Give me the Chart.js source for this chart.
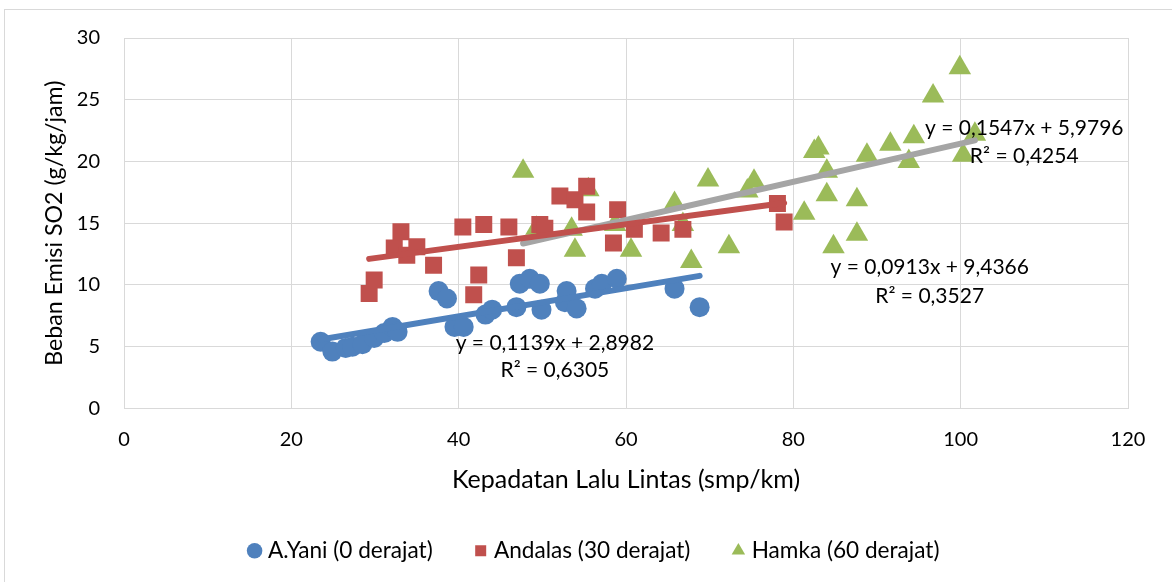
<!DOCTYPE html>
<html><head><meta charset="utf-8">
<script src="https://cdn.jsdelivr.net/npm/chart.js@4.4.1/dist/chart.umd.min.js"></script>
<style>
html,body{margin:0;padding:0;background:#fff;overflow:hidden;}
#wrap{position:relative;width:1172px;height:582px;overflow:hidden;}
#frame{position:absolute;left:4px;top:9px;width:1300px;height:700px;border:1px solid #d9d9d9;box-sizing:border-box;}
canvas{position:absolute;left:0;top:0;}
</style></head><body>
<div id="wrap"><div id="frame"></div><canvas id="c" width="1172" height="582"></canvas></div>
<script>
// ---- data ----
const seriesNames = ['A.Yani (0 derajat)', 'Andalas (30 derajat)', 'Hamka (60 derajat)'];

const ayaniX = [23.5, 24.9, 26.5, 27.3, 28.5, 29.9, 31.1, 32.1, 32.7, 37.6, 38.6, 39.5, 40.6, 43.2, 44.0, 46.9, 47.3, 48.5, 49.7, 49.9, 52.7, 52.9, 54.1, 56.3, 57.1, 58.9, 65.8, 68.8];
const ayaniY = [5.4, 4.6, 4.9, 5.0, 5.2, 5.7, 6.1, 6.6, 6.2, 9.5, 8.9, 6.6, 6.6, 7.6, 8.0, 8.2, 10.1, 10.5, 10.1, 8.0, 8.6, 9.5, 8.1, 9.7, 10.1, 10.5, 9.7, 8.2];

const andalasX = [29.3, 29.9, 32.3, 33.1, 33.8, 35.0, 37.0, 40.5, 41.8, 42.4, 43.0, 46.0, 46.9, 49.7, 50.3, 52.1, 53.9, 55.3, 55.3, 58.5, 59.0, 61.0, 64.2, 66.8, 78.1, 78.9];
const andalasY = [9.3, 10.4, 13.0, 14.3, 12.4, 13.1, 11.6, 14.7, 9.2, 10.8, 14.9, 14.7, 12.2, 14.9, 14.6, 17.2, 16.9, 18.0, 15.9, 13.4, 16.1, 14.5, 14.2, 14.5, 16.6, 15.1];

const hamkaX = [47.7, 49.3, 53.5, 53.9, 55.5, 58.7, 60.6, 65.8, 66.8, 67.8, 69.8, 72.3, 74.5, 75.3, 81.3, 82.5, 83.0, 84.0, 84.0, 84.8, 87.6, 87.6, 88.8, 91.6, 93.8, 94.4, 96.7, 99.9, 100.3, 101.7];
const hamkaY = [19.2, 14.6, 14.5, 12.8, 17.7, 14.9, 12.8, 16.6, 14.9, 11.9, 18.5, 13.1, 17.6, 18.4, 15.8, 20.8, 21.1, 19.2, 17.3, 13.1, 16.9, 14.1, 20.5, 21.4, 20.0, 22.0, 25.3, 27.6, 20.5, 22.2];

// linear trendlines as printed on the chart (slope, intercept)
const trendSlopes = [0.1139, 0.0913, 0.1547];
const trendIntercepts = [2.8982, 9.4366, 5.9796];
const trendEquations = ['y = 0,1139x + 2,8982', 'y = 0,0913x + 9,4366', 'y = 0,1547x + 5,9796'];
const trendR2 = ['R² = 0,6305', 'R² = 0,3527', 'R² = 0,4254'];

const xTicks = [0, 20, 40, 60, 80, 100, 120];
const yTicks = [0, 5, 10, 15, 20, 25, 30];
const xTitle = 'Kepadatan Lalu Lintas (smp/km)';
const yTitle = 'Beban Emisi SO2 (g/kg/jam)';

// ---- styling ----
const FONT = 'Lato, "Open Sans", sans-serif';
const markerColors = ['#4F81BD', '#C0504D', '#9BBB59'];
const trendColors = ['#4F81BD', '#C0504D', '#A5A5A5'];
const pointStyles = ['circle', 'rect', 'triangle'];
const pointRadii = [10, 12, 13];

const xs = [ayaniX, andalasX, hamkaX];
const ys = [ayaniY, andalasY, hamkaY];
const toPts = (a, b) => a.map((v, i) => ({x: v, y: b[i]}));

const scatterSets = xs.map((arr, i) => ({
  type: 'scatter',
  label: seriesNames[i],
  data: toPts(arr, ys[i]),
  backgroundColor: markerColors[i],
  borderColor: markerColors[i],
  borderWidth: 0,
  pointStyle: pointStyles[i],
  pointRadius: pointRadii[i],
  pointHoverRadius: pointRadii[i],
  order: 2
}));

const trendSets = xs.map((arr, i) => {
  const lo = Math.min(...arr), hi = Math.max(...arr);
  return {
    type: 'line',
    label: 'trend' + i,
    isTrend: true,
    data: [lo, hi].map(x => ({x: x, y: trendSlopes[i] * x + trendIntercepts[i]})),
    borderColor: trendColors[i],
    backgroundColor: trendColors[i],
    borderWidth: 6,
    borderCapStyle: 'round',
    pointRadius: 0,
    fill: false,
    order: 1
  };
});

// trendline label anchors (data units)
const labelAnchors = [
  {x: 51.5, y1: 5.3, y2: 3.1},
  {x: 96.3, y1: 11.45, y2: 9.1},
  {x: 107.6, y1: 22.7, y2: 20.4}
];

const trendLabelPlugin = {
  id: 'trendLabels',
  afterDatasetsDraw(chart) {
    const ctx = chart.ctx, sx = chart.scales.x, sy = chart.scales.y;
    ctx.save();
    ctx.font = '21px ' + FONT;
    ctx.fillStyle = '#000';
    ctx.textAlign = 'center';
    ctx.textBaseline = 'middle';
    labelAnchors.forEach((a, i) => {
      const px = sx.getPixelForValue(a.x);
      ctx.fillText(trendEquations[i], px, sy.getPixelForValue(a.y1));
      ctx.fillText(trendR2[i], px, sy.getPixelForValue(a.y2));
    });
    ctx.restore();
  }
};

// shift the legend row horizontally so it is centred like the reference
const legendShiftPlugin = {
  id: 'legendShift',
  afterLayout(chart) {
    if (chart.legend) { chart.legend.left += 32; chart.legend.right += 32; }
  }
};

new Chart(document.getElementById('c'), {
  data: {datasets: [...trendSets, ...scatterSets]},
  options: {
    responsive: false,
    animation: false,
    layout: {padding: {left: 0, top: 38, right: 44, bottom: 10}},
    plugins: {
      tooltip: {enabled: false},
      legend: {
        position: 'bottom',
        labels: {
          filter: (item, data) => !data.datasets[item.datasetIndex].isTrend,
          usePointStyle: true,
          boxHeight: 11,
          boxWidth: 4,
          padding: 46,
          color: '#000',
          font: {family: FONT, size: 22.6}
        }
      }
    },
    scales: {
      x: {
        type: 'linear', min: 0, max: 120,
        afterBuildTicks: s => { s.ticks = xTicks.map(v => ({value: v})); },
        afterFit: s => { s.height = 85; },
        grid: {color: '#d9d9d9', lineWidth: 1, drawTicks: false},
        border: {color: '#d9d9d9'},
        ticks: {color: '#000', padding: 19, font: {family: FONT, size: 20}},
        title: {display: true, text: xTitle, color: '#000', font: {family: FONT, size: 25}, padding: {top: 0, bottom: -2}}
      },
      y: {
        type: 'linear', min: 0, max: 30,
        afterBuildTicks: s => { s.ticks = yTicks.map(v => ({value: v})); },
        afterFit: s => { s.width = 124; },
        grid: {color: '#d9d9d9', lineWidth: 1, drawTicks: false},
        border: {color: '#d9d9d9'},
        ticks: {color: '#000', padding: 24, font: {family: FONT, size: 20}},
        title: {display: true, text: yTitle, color: '#000', font: {family: FONT, size: 23.2}, padding: {top: 41, bottom: 0}}
      }
    }
  },
  plugins: [trendLabelPlugin, legendShiftPlugin]
});
</script>
</body></html>
